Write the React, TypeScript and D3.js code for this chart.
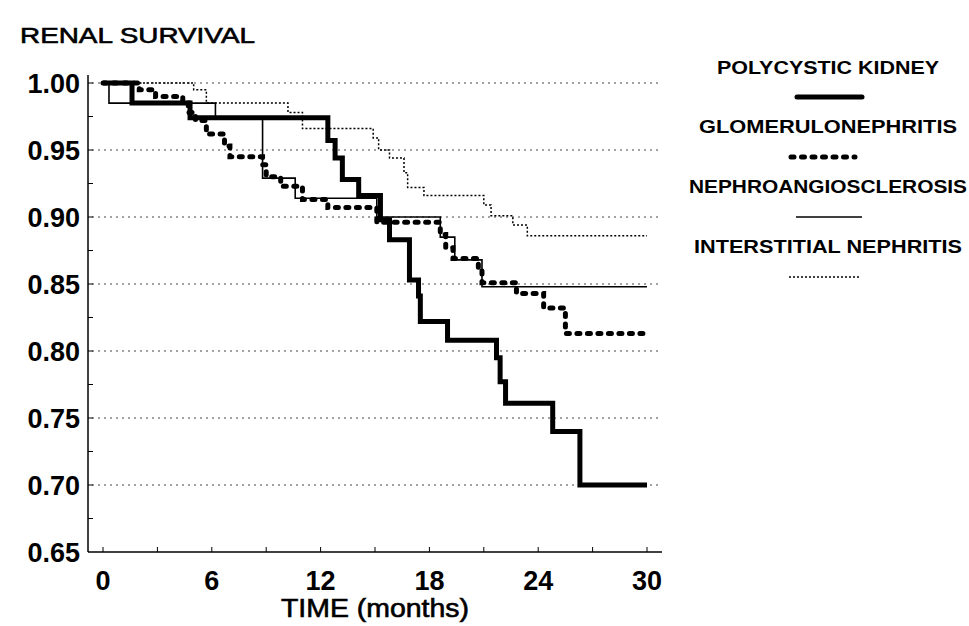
import { useRef, useEffect } from 'react';
import * as d3 from 'd3';

// Kaplan-Meier steps: time (months) where survival drops, and the new value
const polyTimes: number[] = [0, 1.6, 4.8, 12.4, 12.8, 13.2, 14.1, 15.3, 15.8, 16.9, 17.4, 17.5, 19.0, 21.7, 21.9, 22.2, 24.8, 26.3];
const polyValues: number[] = [1, 0.985, 0.974, 0.957, 0.944, 0.928, 0.916, 0.898, 0.883, 0.853, 0.841, 0.822, 0.808, 0.795, 0.777, 0.761, 0.74, 0.7];

const glomTimes: number[] = [0, 2.0, 2.9, 4.4, 4.7, 5.1, 5.7, 6.7, 7.0, 8.8, 9.0, 9.8, 11.0, 12.4, 15.1, 18.6, 18.9, 19.3, 20.7, 20.9, 22.8, 24.3, 25.5];
const glomValues: number[] = [1, 0.995, 0.99, 0.985, 0.978, 0.972, 0.962, 0.953, 0.945, 0.939, 0.93, 0.923, 0.913, 0.907, 0.896, 0.887, 0.877, 0.869, 0.86, 0.851, 0.843, 0.832, 0.813];

const nephTimes: number[] = [0, 0.33, 6.2, 8.8, 10.6, 15.1, 18.6, 19.4, 20.9];
const nephValues: number[] = [1, 0.985, 0.974, 0.929, 0.914, 0.9, 0.885, 0.868, 0.848];

const intTimes: number[] = [0, 5.0, 5.7, 10.2, 11.0, 14.9, 15.2, 15.8, 16.6, 16.8, 17.7, 21.0, 21.4, 22.6, 23.4];
const intValues: number[] = [1, 0.995, 0.985, 0.978, 0.966, 0.959, 0.95, 0.944, 0.933, 0.922, 0.916, 0.909, 0.901, 0.894, 0.886];

const xTicks: number[] = [0, 6, 12, 18, 24, 30];
const yTicks: number[] = [0.65, 0.7, 0.75, 0.8, 0.85, 0.9, 0.95, 1.0];
const gridValues: number[] = [0.7, 0.75, 0.8, 0.85, 0.9, 0.95, 1.0];

const legendLabels: string[] = ['POLYCYSTIC KIDNEY', 'GLOMERULONEPHRITIS', 'NEPHROANGIOSCLEROSIS', 'INTERSTITIAL NEPHRITIS'];

export default function App() {
  const chartRef = useRef<SVGSVGElement | null>(null);

  useEffect(() => {
    if (!chartRef.current) return;

    const width = 969;
    const height = 626;
    const svg = d3.select(chartRef.current).attr('width', width).attr('height', height);
    svg.selectAll('*').remove();

    svg.append('rect').attr('width', width).attr('height', height).attr('fill', '#fff');

    const x = d3.scaleLinear().domain([0, 30]).range([103, 647]);
    const y = d3.scaleLinear().domain([0.65, 1]).range([552, 83]);
    const axisX = 88;
    const font = '"Liberation Sans", Arial, sans-serif';

    // dotted gridlines
    svg.selectAll('line.grid')
      .data(gridValues)
      .enter()
      .append('line')
      .attr('class', 'grid')
      .attr('x1', axisX + 4)
      .attr('x2', 662)
      .attr('y1', (d) => y(d))
      .attr('y2', (d) => y(d))
      .attr('stroke', '#444')
      .attr('stroke-width', 1)
      .attr('stroke-dasharray', '2,4');

    // axes
    svg.append('line')
      .attr('x1', axisX).attr('x2', axisX)
      .attr('y1', 75).attr('y2', y(0.65))
      .attr('stroke', '#000').attr('stroke-width', 1.5);
    svg.append('line')
      .attr('x1', axisX).attr('x2', 662)
      .attr('y1', y(0.65)).attr('y2', y(0.65))
      .attr('stroke', '#000').attr('stroke-width', 1.5);

    // y ticks every 0.025, inward
    const yMinor = d3.range(0.675, 1.0001, 0.025);
    svg.selectAll('line.ytick')
      .data(yMinor)
      .enter()
      .append('line')
      .attr('class', 'ytick')
      .attr('x1', axisX).attr('x2', axisX + 5)
      .attr('y1', (d) => y(d)).attr('y2', (d) => y(d))
      .attr('stroke', '#000').attr('stroke-width', 1);

    const xMinor = d3.range(0, 30.01, 3);
    svg.selectAll('line.xtick')
      .data(xMinor)
      .enter()
      .append('line')
      .attr('class', 'xtick')
      .attr('x1', (d) => x(d)).attr('x2', (d) => x(d))
      .attr('y1', y(0.65)).attr('y2', y(0.65) - 5)
      .attr('stroke', '#000').attr('stroke-width', 1);

    svg.selectAll('text.ylab')
      .data(yTicks)
      .enter()
      .append('text')
      .attr('class', 'ylab')
      .attr('x', 80)
      .attr('y', (d) => y(d) + 10)
      .attr('text-anchor', 'end')
      .attr('font-family', font)
      .attr('font-weight', 'bold')
      .attr('font-size', 27)
      .text((d) => d.toFixed(2));

    svg.selectAll('text.xlab')
      .data(xTicks)
      .enter()
      .append('text')
      .attr('class', 'xlab')
      .attr('x', (d) => x(d))
      .attr('y', 590)
      .attr('text-anchor', 'middle')
      .attr('font-family', font)
      .attr('font-weight', 'bold')
      .attr('font-size', 27)
      .text((d) => String(d));

    svg.append('text')
      .attr('x', 20).attr('y', 43)
      .attr('font-family', font).attr('font-size', 22)
      .attr('stroke', '#000').attr('stroke-width', 0.6)
      .attr('textLength', 235).attr('lengthAdjust', 'spacingAndGlyphs')
      .text('RENAL SURVIVAL');

    svg.append('text')
      .attr('x', 375).attr('y', 617)
      .attr('text-anchor', 'middle')
      .attr('font-family', font).attr('font-size', 25)
      .attr('stroke', '#000').attr('stroke-width', 0.6)
      .attr('textLength', 188).attr('lengthAdjust', 'spacingAndGlyphs')
      .text('TIME (months)');

    // survival curves
    const line = d3.line<[number, number]>()
      .x((d) => x(d[0]))
      .y((d) => y(d[1]))
      .curve(d3.curveStepAfter);

    const toPoints = (times: number[], values: number[]): [number, number][] => {
      const pts: [number, number][] = times.map((t, i) => [t, values[i]]);
      pts.push([30, values[values.length - 1]]);
      return pts;
    };

    const styles = [
      { width: 1.5, dash: '2,2', cap: 'butt' },
      { width: 1.6, dash: null, cap: 'butt' },
      { width: 5, dash: '3,7.5', cap: 'round' },
      { width: 5, dash: null, cap: 'butt' },
    ];
    const series = [
      toPoints(intTimes, intValues),
      toPoints(nephTimes, nephValues),
      toPoints(glomTimes, glomValues),
      toPoints(polyTimes, polyValues),
    ];

    series.forEach((pts, i) => {
      const s = styles[i];
      const p = svg.append('path')
        .attr('d', line(pts) || '')
        .attr('fill', 'none')
        .attr('stroke', '#000')
        .attr('stroke-width', s.width)
        .attr('stroke-linecap', s.cap)
        .attr('stroke-linejoin', 'miter');
      if (s.dash) p.attr('stroke-dasharray', s.dash);
    });

    // legend
    const legendCx = 828;
    const textY = [74, 133, 193, 253];
    const lineY = [97, 157, 217, 277];
    const textLens = [222, 258, 278, 268];
    const legStyles = [styles[3], styles[2], styles[1], styles[0]];
    const legX = [[797, 862], [791, 855], [796, 862], [789, 860]];

    legendLabels.forEach((lab, i) => {
      svg.append('text')
        .attr('x', legendCx).attr('y', textY[i])
        .attr('text-anchor', 'middle')
        .attr('font-family', font).attr('font-size', 19)
        .attr('font-weight', 'bold')
        .attr('textLength', textLens[i]).attr('lengthAdjust', 'spacingAndGlyphs')
        .text(lab);
      const s = legStyles[i];
      const l = svg.append('line')
        .attr('x1', legX[i][0]).attr('x2', legX[i][1])
        .attr('y1', lineY[i]).attr('y2', lineY[i])
        .attr('stroke', '#000')
        .attr('stroke-width', s.width)
        .attr('stroke-linecap', i === 0 ? 'round' : s.cap);
      if (s.dash) l.attr('stroke-dasharray', s.dash);
    });
  }, []);

  return (
    <div>
      <svg ref={chartRef} style={{ position: 'absolute', left: 0, top: 0 }}></svg>
    </div>
  );
}
